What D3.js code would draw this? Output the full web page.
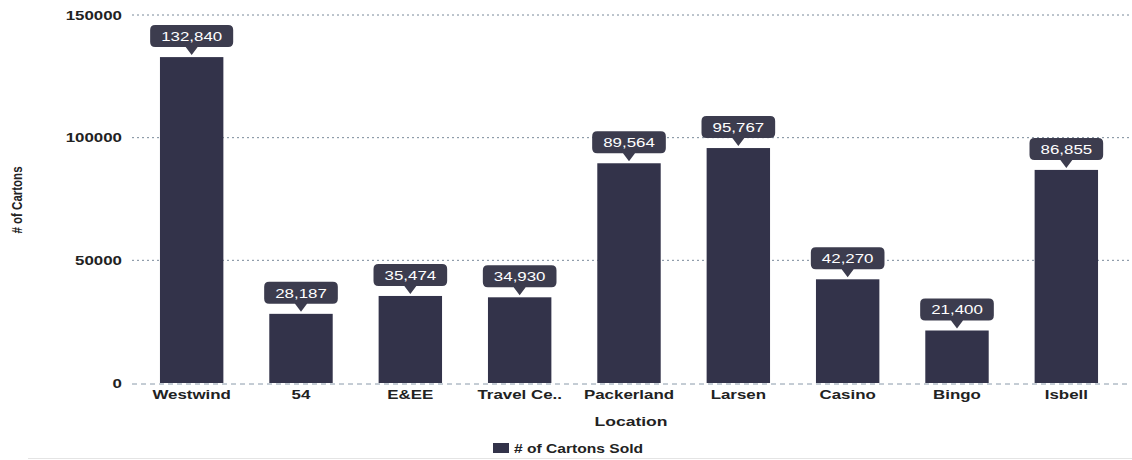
<!DOCTYPE html>
<html>
<head>
<meta charset="utf-8">
<script src="https://cdn.jsdelivr.net/npm/d3@7/dist/d3.min.js"></script>
<style>
  html, body { margin: 0; padding: 0; background: #fff; }
  svg { display: block; font-family: "Liberation Sans", Arial, sans-serif; }
</style>
</head>
<body>
<svg id="chart" width="1132" height="460"></svg>
<script>
// Cartons sold per location
const locations = ["Westwind", "54", "E&EE", "Travel Ce..", "Packerland", "Larsen", "Casino", "Bingo", "Isbell"];
const cartonsSold = [132840, 28187, 35474, 34930, 89564, 95767, 42270, 21400, 86855];
const yTicks = [0, 50000, 100000, 150000];
const seriesName = "# of Cartons Sold";

const svg = d3.select("#chart");
const margin = { left: 137, right: 11, top: 15, bottom: 77 };
const W = 1132, H = 460;
const WIDE = "scale(1.3,1)";   // wide lettering used throughout

const x = d3.scaleBand()
  .domain(locations)
  .range([margin.left, W - margin.right])
  .paddingInner(0.42)
  .paddingOuter(0.21);

const y = d3.scaleLinear()
  .domain([0, 150000])
  .range([H - margin.bottom, margin.top]);

const barColor = "#33334a";
const tipColor = "#3c3c4e";
const inkColor = "#222";

// gridlines
svg.append("g")
  .selectAll("line")
  .data(yTicks.filter(d => d > 0))
  .join("line")
  .attr("x1", 132).attr("x2", W - 2)
  .attr("y1", d => y(d)).attr("y2", d => y(d))
  .attr("stroke", "#7a8a9a")
  .attr("stroke-width", 1)
  .attr("stroke-dasharray", "2,3");

// y axis labels
const yAxis = d3.axisLeft(y).tickValues(yTicks).tickSize(0).tickPadding(0).tickFormat(d3.format("d"));
const gy = svg.append("g").attr("transform", `translate(122,0)`).call(yAxis);
gy.select(".domain").remove();
gy.selectAll("text")
  .attr("transform", WIDE)
  .attr("font-size", 13)
  .attr("font-weight", "bold")
  .attr("fill", inkColor)
  .attr("font-family", "Liberation Sans, Arial, sans-serif");

// bars
svg.append("g")
  .selectAll("rect")
  .data(locations)
  .join("rect")
  .attr("x", d => x(d))
  .attr("width", x.bandwidth())
  .attr("y", (d, i) => y(cartonsSold[i]))
  .attr("height", (d, i) => y(0) - y(cartonsSold[i]))
  .attr("fill", barColor);

// baseline
svg.append("line")
  .attr("x1", 132).attr("x2", W - 2)
  .attr("y1", y(0) + 1).attr("y2", y(0) + 1)
  .attr("stroke", "#8a9aaa")
  .attr("stroke-dasharray", "5,4");

// x axis labels
const xAxis = d3.axisBottom(x).tickSize(0).tickPadding(0);
const gx = svg.append("g").attr("transform", `translate(0,${y(0) + 5})`).call(xAxis);
gx.select(".domain").remove();
gx.selectAll("text")
  .attr("transform", WIDE)
  .attr("dy", "0.85em")
  .attr("font-size", 13)
  .attr("font-weight", "bold")
  .attr("fill", inkColor)
  .attr("font-family", "Liberation Sans, Arial, sans-serif");

// value callouts
const fmt = d3.format(",");
const tips = svg.append("g")
  .selectAll("g")
  .data(locations)
  .join("g")
  .attr("transform", (d, i) => `translate(${x(d) + x.bandwidth() / 2},${y(cartonsSold[i])})`);

const bh = 22, ph = 8, gap = 2, pad = 11;
const tipText = tips.append("text")
  .attr("transform", WIDE)
  .attr("y", -gap - ph - bh / 2)
  .attr("dy", "0.36em")
  .attr("text-anchor", "middle")
  .attr("fill", "#fff")
  .attr("font-size", 13)
  .text((d, i) => fmt(cartonsSold[i]));

tips.insert("path", "text")
  .attr("d", function () {
    const tw = this.parentNode.querySelector("text").getComputedTextLength() * 1.3;
    const bw = tw + 2 * pad;
    const x0 = -bw / 2, x1 = bw / 2, yb = -gap - ph, yt = yb - bh, r = 5;
    return `M${x0 + r},${yt} H${x1 - r} Q${x1},${yt} ${x1},${yt + r} V${yb - r} Q${x1},${yb} ${x1 - r},${yb}` +
      ` H6 L0,${-gap} L-6,${yb} H${x0 + r} Q${x0},${yb} ${x0},${yb - r} V${yt + r} Q${x0},${yt} ${x0 + r},${yt} Z`;
  })
  .attr("fill", tipColor);

// axis titles
svg.append("g").attr("transform", "translate(631,426)")
  .append("text")
  .attr("transform", WIDE)
  .attr("text-anchor", "middle")
  .attr("font-size", 13.5)
  .attr("font-weight", "bold")
  .attr("fill", inkColor)
  .text("Location");

svg.append("text")
  .attr("transform", "translate(22,200) scale(1.3,1) rotate(-90)")
  .attr("text-anchor", "middle")
  .attr("font-size", 11.5)
  .attr("font-weight", "bold")
  .attr("fill", inkColor)
  .text("# of Cartons");

// legend
const legend = svg.append("g").attr("transform", "translate(493,443)");
legend.append("rect").attr("width", 16).attr("height", 10).attr("fill", barColor);
legend.append("g").attr("transform", "translate(21,10)")
  .append("text")
  .attr("transform", WIDE)
  .attr("font-size", 12)
  .attr("font-weight", "bold")
  .attr("fill", inkColor)
  .text(seriesName);

// faint rule at bottom
svg.append("line")
  .attr("x1", 28).attr("x2", W).attr("y1", 458.5).attr("y2", 458.5)
  .attr("stroke", "#e4e4e4");
</script>
</body>
</html>
